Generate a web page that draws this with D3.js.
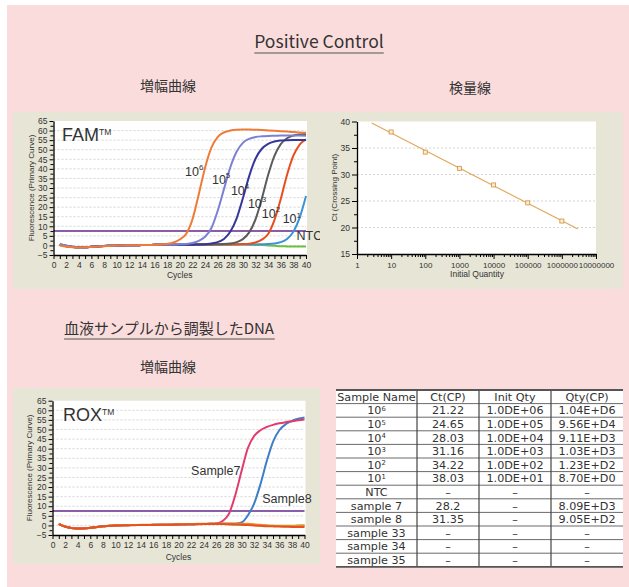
<!DOCTYPE html>
<html>
<head>
<meta charset="utf-8">
<script src="https://cdn.jsdelivr.net/npm/d3@7"></script>
<style>
  body { margin: 0; background: #fff; }
  svg text { font-family: "Liberation Sans", Arial, sans-serif; }
  .jp { font-family: "Noto Sans CJK JP", "Noto Sans", sans-serif; }
  .tbl { font-family: "DejaVu Sans", "Noto Sans", sans-serif; }
</style>
</head>
<body>
<svg id="chart" width="629" height="587"></svg>
<script>
// ---------- data ----------
const cycles = [1,2,3,4,5,6,7,8,9,10,11,12,13,14,15,16,17,18,19,20,
                21,22,23,24,25,26,27,28,29,30,31,32,33,34,35,36,37,38,39,40];

// FAM amplification curves (fluorescence per cycle)
const famNTC = [0.3,-0.4,-0.8,-1.0,-0.9,-0.7,-0.5,-0.3,-0.2,-0.1,0.0,0.1,0.1,0.2,0.2,0.3,0.3,0.3,0.4,0.4,
                0.4,0.4,0.5,0.5,0.5,0.5,0.5,0.5,0.5,0.5,0.4,0.3,0.2,0.0,-0.2,-0.4,-0.5,-0.6,-0.6,-0.6];
const fam1e1 = [0.3,-0.4,-0.8,-1.0,-0.9,-0.7,-0.5,-0.3,-0.2,-0.1,0.0,0.1,0.1,0.2,0.2,0.3,0.3,0.3,0.4,0.4,
                0.4,0.4,0.5,0.5,0.5,0.5,0.5,0.5,0.5,0.5,0.5,0.5,0.6,0.7,1.0,1.7,3.4,7.2,14.5,25.8];
const fam1e2 = [0.3,-0.4,-0.8,-1.0,-0.9,-0.7,-0.5,-0.3,-0.2,-0.1,0.0,0.1,0.1,0.2,0.2,0.3,0.3,0.3,0.4,0.4,
                0.4,0.4,0.5,0.5,0.5,0.5,0.5,0.5,0.6,0.7,0.9,1.5,3.0,6.0,13.2,24.2,36.9,46.9,52.7,55.4];
const fam1e3 = [0.4,-0.3,-0.8,-1.0,-0.9,-0.7,-0.5,-0.3,-0.2,-0.1,0.0,0.1,0.1,0.2,0.2,0.3,0.3,0.3,0.4,0.4,
                0.4,0.4,0.5,0.5,0.5,0.6,0.7,1.0,1.7,3.3,6.8,13.6,24.4,36.8,46.8,52.9,56.0,57.4,58.0,58.2];
const fam1e4 = [0.6,-0.2,-0.7,-1.0,-0.9,-0.7,-0.5,-0.3,-0.2,-0.1,0.0,0.1,0.1,0.2,0.2,0.3,0.3,0.3,0.4,0.4,
                0.4,0.4,0.5,0.6,1.0,1.7,3.4,7.1,14.0,24.6,36.2,45.3,50.5,53.1,54.3,54.8,55.0,55.1,55.1,55.1];
const fam1e5 = [0.8,0.0,-0.6,-0.9,-0.9,-0.7,-0.5,-0.3,-0.2,-0.1,0.0,0.1,0.1,0.2,0.2,0.3,0.3,0.3,0.4,0.6,
                0.8,1.3,2.4,4.5,9.0,18.0,29.4,40.7,48.9,53.6,55.7,56.6,57.0,57.2,57.3,57.4,57.4,57.4,57.4,57.3];
const fam1e6 = [0.0,-0.6,-1.0,-1.1,-1.0,-0.8,-0.6,-0.4,-0.3,-0.1,0.0,0.1,0.1,0.2,0.2,0.3,0.5,0.8,1.5,3.1,
                6.0,13.5,26.5,40.5,51.0,56.6,59.0,60.0,60.4,60.5,60.5,60.4,60.3,60.1,59.9,59.7,59.5,59.3,59.0,58.8];

// ROX amplification curves (DNA prepared from blood samples)
const rox33 = [0.8,-0.6,-1.3,-1.5,-1.5,-1.2,-0.8,-0.4,-0.2,0.0,0.1,0.1,0.2,0.2,0.2,0.3,0.3,0.3,0.4,0.5,
               0.6,0.6,0.7,0.7,0.8,0.8,0.8,0.6,0.5,0.4,0.3,0.2,0.0,-0.1,-0.2,-0.2,-0.2,-0.2,-0.1,-0.1];
const rox34 = [0.9,-0.5,-1.4,-1.6,-1.6,-1.3,-0.9,-0.5,-0.2,0.0,0.1,0.2,0.2,0.3,0.3,0.3,0.4,0.4,0.5,0.6,
               0.7,0.7,0.8,0.8,0.9,0.9,1.0,1.0,1.0,0.9,0.8,0.6,0.3,0.0,-0.2,-0.3,-0.4,-0.3,-0.2,-0.1];
const rox35 = [0.7,-0.7,-1.4,-1.7,-1.6,-1.3,-0.9,-0.5,-0.3,-0.1,0.0,0.1,0.1,0.2,0.2,0.2,0.3,0.3,0.4,0.5,
               0.5,0.6,0.6,0.7,0.7,0.7,0.7,0.6,0.5,0.4,0.2,0.0,-0.2,-0.4,-0.5,-0.6,-0.7,-0.8,-0.8,-0.8];
const roxSample7 = [0.8,-0.6,-1.3,-1.5,-1.5,-1.2,-0.8,-0.4,-0.2,0.0,0.1,0.1,0.2,0.2,0.2,0.3,0.3,0.3,0.4,0.5,
                    0.6,0.6,0.7,0.7,0.8,1.0,2.3,6.0,15.6,28.2,40.2,46.6,49.6,51.3,52.4,53.2,53.8,54.3,54.8,55.2];
const roxSample8 = [0.8,-0.6,-1.3,-1.5,-1.5,-1.2,-0.8,-0.4,-0.2,0.0,0.1,0.1,0.2,0.2,0.2,0.3,0.3,0.3,0.4,0.5,
                    0.6,0.6,0.7,0.7,0.8,0.8,0.8,0.8,0.9,1.5,5.2,11.4,21.4,33.4,43.6,49.6,52.7,54.5,55.6,56.3];

const threshold = 7.5;

// standard curve: log10 initial quantity vs Ct
const stdQuantity = [10, 100, 1000, 10000, 100000, 1000000];
const stdCt = [38.03, 34.22, 31.16, 28.03, 24.65, 21.22];
const fitLogRange = [0.43, 6.47];

// results table
const tableHeader = ["Sample Name", "Ct(CP)", "Init Qty", "Qty(CP)"];
const sampleNames = ["10^6","10^5","10^4","10^3","10^2","10^1","NTC","sample 7","sample 8","sample 33","sample 34","sample 35"];
const ctCP = ["21.22","24.65","28.03","31.16","34.22","38.03","–","28.2","31.35","–","–","–"];
const initQty = ["1.0DE+06","1.0DE+05","1.0DE+04","1.0DE+03","1.0DE+02","1.0DE+01","–","–","–","–","–","–"];
const qtyCP = ["1.04E+D6","9.56E+D4","9.11E+D3","1.03E+D3","1.23E+D2","8.70E+D0","–","8.09E+D3","9.05E+D2","–","–","–"];

// axis ticks
const fluorTicks = [-5,0,5,10,15,20,25,30,35,40,45,50,55,60,65];
const cycleTicks = [0,2,4,6,8,10,12,14,16,18,20,22,24,26,28,30,32,34,36,38,40];
const ctTicks = [15,20,25,30,35,40];
const qtyTicks = [1,10,100,1000,10000,100000,1000000,10000000];

// ---------- drawing ----------
const svg = d3.select("#chart");
const PINK = "#fbdcdc", BEIGE = "#e7e5d6", INK = "#333";

svg.append("rect").attr("width", 629).attr("height", 587).attr("fill", "#fff");
svg.append("rect").attr("x", 7).attr("y", 5).attr("width", 622).attr("height", 582).attr("fill", PINK);

function heading(txt, x, y, size, underline) {
  const t = svg.append("text").attr("class", "jp").attr("x", x).attr("y", y)
    .attr("text-anchor", "middle").attr("font-size", size).attr("fill", INK).text(txt);
  if (underline) {
    const b = t.node().getBBox();
    svg.append("line").attr("x1", b.x).attr("x2", b.x + b.width)
      .attr("y1", y + 5).attr("y2", y + 5).attr("stroke", "#555").attr("stroke-width", 1.2);
  }
}
heading("Positive Control", 319, 48, 17.5, true);
heading("増幅曲線", 168, 91, 14, false);
heading("検量線", 470, 93, 14, false);
heading("血液サンプルから調製したDNA", 169, 334, 15, true);
heading("増幅曲線", 168, 372, 14, false);

function supText(g, x, y, base, sup, size, supSize, anchor, shift) {
  const t = g.append("text").attr("x", x).attr("y", y).attr("font-size", size)
    .attr("fill", INK).attr("text-anchor", anchor || "start");
  t.append("tspan").text(base);
  if (sup) t.append("tspan").attr("font-size", supSize).attr("dy", -(shift || size * 0.42)).text(sup);
  return t;
}

function styleAxis(sel) {
  sel.selectAll(".domain").attr("stroke", "#000").attr("stroke-width", 1.3);
  sel.selectAll(".tick line").attr("stroke", "#000");
  sel.selectAll("text").attr("fill", "#333").attr("font-family", "Liberation Sans, Arial, sans-serif");
}

function ampChart(cfg) {
  const g = svg.append("g");
  g.append("rect").attr("x", cfg.panel[0]).attr("y", cfg.panel[1])
    .attr("width", cfg.panel[2]).attr("height", cfg.panel[3]).attr("fill", BEIGE);

  const x = d3.scaleLinear().domain([0, 40]).range([cfg.x0, cfg.x1]);
  const y = d3.scaleLinear().domain([-5, 65]).range([cfg.y1, cfg.y0]);

  g.append("rect").attr("x", x(0)).attr("y", y(65))
    .attr("width", x(40) - x(0) + 1).attr("height", y(-5) - y(65)).attr("fill", "#fff");

  g.selectAll(".grid").data(fluorTicks.filter(v => v > -5 && v < 65)).join("line")
    .attr("x1", x(0)).attr("x2", x(40)).attr("y1", d => y(d)).attr("y2", d => y(d))
    .attr("stroke", "#c9c9c9").attr("stroke-width", 0.8).attr("stroke-dasharray", "2,2");

  // dye name with trademark mark
  const ttl = g.append("text").attr("x", cfg.titlePos[0]).attr("y", cfg.titlePos[1])
    .attr("font-size", 18).attr("fill", INK);
  ttl.append("tspan").text(cfg.title);
  ttl.append("tspan").attr("font-size", 8.5).attr("dy", -6.5).text("TM");

  g.append("line").attr("x1", x(0)).attr("x2", x(40))
    .attr("y1", y(threshold)).attr("y2", y(threshold))
    .attr("stroke", "#8b5ca8").attr("stroke-width", 2);

  const line = d3.line().x((d, i) => x(cycles[i])).y(d => y(d)).curve(d3.curveMonotoneX);
  cfg.series.forEach(s => {
    g.append("path").attr("d", line(s.values)).attr("fill", "none")
      .attr("stroke", s.color).attr("stroke-width", 2);
  });

  // axes
  const yAx = g.append("g").attr("transform", `translate(${x(0)},0)`)
    .call(d3.axisLeft(y).tickValues(fluorTicks).tickSize(4).tickSizeOuter(0).tickPadding(2))
    .attr("font-size", 8.5);
  g.append("g").attr("transform", `translate(${x(0)},0)`)
    .call(d3.axisLeft(y).tickValues(fluorTicks.slice(0, -1).map(v => v + 2.5)).tickSize(3).tickFormat(""))
    .call(s => s.select(".domain").remove())
    .selectAll("line").attr("stroke", "#000");
  styleAxis(yAx);

  const xAx = g.append("g").attr("transform", `translate(0,${y(-5)})`)
    .call(d3.axisBottom(x).tickValues(cycleTicks).tickSize(4).tickSizeOuter(0).tickPadding(3))
    .attr("font-size", 8.5);
  g.append("g").attr("transform", `translate(0,${y(-5)})`)
    .call(d3.axisBottom(x).tickValues(cycleTicks.slice(0, -1).map(v => v + 1)).tickSize(4).tickFormat(""))
    .call(s => s.select(".domain").remove())
    .selectAll("line").attr("stroke", "#000");
  styleAxis(xAx);

  g.append("text").attr("x", (x(0) + x(40)) / 2).attr("y", cfg.xTitleY).attr("text-anchor", "middle")
    .attr("font-size", 8.5).attr("fill", INK).text("Cycles");
  g.append("text").attr("transform", `translate(${cfg.yTitleX},${(y(-5) + y(65)) / 2}) rotate(-90)`)
    .attr("text-anchor", "middle").attr("font-size", 8).attr("fill", INK)
    .text("Fluorescence (Primary Curve)");

  cfg.labels.forEach(l => supText(g, x(l.c), y(l.v), l.base, l.sup, 12.5, 8));
}

ampChart({
  panel: [13, 112, 307, 177],
  x0: 53.5, x1: 306, y0: 121, y1: 255,
  title: "FAM", titlePos: [62, 141],
  xTitleY: 278, yTitleX: 34,
  series: [
    { values: famNTC, color: "#6cbf45" },
    { values: fam1e1, color: "#3b93d6" },
    { values: fam1e2, color: "#e84e1c" },
    { values: fam1e3, color: "#5b5b5b" },
    { values: fam1e4, color: "#35369a" },
    { values: fam1e5, color: "#7c80d3" },
    { values: fam1e6, color: "#f07b36" }
  ],
  labels: [
    { c: 20.85, v: 36.5, base: "10", sup: "6" },
    { c: 25.1, v: 32.3, base: "10", sup: "5" },
    { c: 28.1, v: 26.6, base: "10", sup: "4" },
    { c: 30.8, v: 19.8, base: "10", sup: "3" },
    { c: 33.0, v: 14.5, base: "10", sup: "2" },
    { c: 36.3, v: 11.5, base: "10", sup: "1" },
    { c: 38.5, v: 2.6, base: "NTC", sup: "" }
  ]
});

ampChart({
  panel: [13, 388, 307, 176],
  x0: 52.5, x1: 304.5, y0: 400.7, y1: 535,
  title: "ROX", titlePos: [63, 421],
  xTitleY: 560, yTitleX: 32,
  series: [
    { values: rox33, color: "#6cbf45" },
    { values: roxSample8, color: "#3f7dc8" },
    { values: roxSample7, color: "#e23a6c" },
    { values: rox34, color: "#f08a30" },
    { values: rox35, color: "#e8501c" }
  ],
  labels: [
    { c: 22.0, v: 26.2, base: "Sample7", sup: "" },
    { c: 33.3, v: 11.7, base: "Sample8", sup: "" }
  ]
});

// ---------- standard curve ----------
(function () {
  const g = svg.append("g");
  g.append("rect").attr("x", 320).attr("y", 112).attr("width", 303).attr("height", 177).attr("fill", BEIGE);
  const x = d3.scaleLog().domain([1, 1e7]).range([357, 596]);
  const y = d3.scaleLinear().domain([15, 40]).range([254, 121.5]);
  g.append("rect").attr("x", x(1)).attr("y", y(40)).attr("width", x(1e7) - x(1))
    .attr("height", y(15) - y(40)).attr("fill", "#fff");
  g.selectAll(".grid").data(ctTicks.filter(v => v > 15 && v < 40)).join("line")
    .attr("x1", x(1)).attr("x2", x(1e7)).attr("y1", d => y(d)).attr("y2", d => y(d))
    .attr("stroke", "#c9c9c9").attr("stroke-width", 0.8).attr("stroke-dasharray", "2,2");

  // least-squares line of Ct against log10 quantity
  const lx = stdQuantity.map(q => Math.log10(q));
  const mx = d3.mean(lx), my = d3.mean(stdCt);
  const slope = d3.sum(lx.map((v, i) => (v - mx) * (stdCt[i] - my))) / d3.sum(lx.map(v => (v - mx) ** 2));
  const icpt = my - slope * mx;
  g.append("line")
    .attr("x1", x(10 ** fitLogRange[0])).attr("y1", y(icpt + slope * fitLogRange[0]))
    .attr("x2", x(10 ** fitLogRange[1])).attr("y2", y(icpt + slope * fitLogRange[1]))
    .attr("stroke", "#e2a658").attr("stroke-width", 1.1);
  g.selectAll(".pt").data(stdQuantity).join("rect")
    .attr("x", (d) => x(d) - 2).attr("y", (d, i) => y(stdCt[i]) - 2)
    .attr("width", 4).attr("height", 4).attr("fill", "#fbeed8")
    .attr("stroke", "#d39a4c").attr("stroke-width", 0.9);

  const yAx = g.append("g").attr("transform", `translate(${x(1)},0)`)
    .call(d3.axisLeft(y).tickValues(ctTicks).tickSize(5).tickSizeOuter(0).tickPadding(2))
    .attr("font-size", 8.5);
  g.append("g").attr("transform", `translate(${x(1)},0)`)
    .call(d3.axisLeft(y).tickValues(ctTicks.slice(0, -1).map(v => v + 2.5)).tickSize(3).tickFormat(""))
    .call(s => s.select(".domain").remove())
    .selectAll("line").attr("stroke", "#000");
  styleAxis(yAx);

  const minor = [];
  qtyTicks.slice(0, -1).forEach(d => { for (let k = 2; k <= 9; k++) minor.push(d * k); });
  const xAx = g.append("g").attr("transform", `translate(0,${y(15)})`)
    .call(d3.axisBottom(x).tickValues(qtyTicks).tickSize(5).tickSizeOuter(0).tickPadding(3)
      .tickFormat(d3.format("d")))
    .attr("font-size", 8);
  g.append("g").attr("transform", `translate(0,${y(15)})`)
    .call(d3.axisBottom(x).tickValues(minor).tickSize(3).tickFormat(""))
    .call(s => s.select(".domain").remove())
    .selectAll("line").attr("stroke", "#000");
  styleAxis(xAx);

  g.append("text").attr("x", 477).attr("y", 277).attr("text-anchor", "middle")
    .attr("font-size", 8.5).attr("fill", INK).text("Initial Quantity");
  g.append("text").attr("transform", `translate(337,${(y(15) + y(40)) / 2}) rotate(-90)`)
    .attr("text-anchor", "middle").attr("font-size", 8).attr("fill", INK)
    .text("Ct (Crossing Point)");
})();

// ---------- results table ----------
(function () {
  const g = svg.append("g");
  const colX = [336, 417, 479, 551, 623];
  const top = 390, rowH = 13.6;
  const rows = [tableHeader].concat(sampleNames.map((n, i) => [n, ctCP[i], initQty[i], qtyCP[i]]));
  const bottom = top + rows.length * rowH;
  g.append("rect").attr("x", colX[0]).attr("y", top).attr("width", colX[4] - colX[0])
    .attr("height", bottom - top).attr("fill", "#fff");
  rows.forEach((r, i) => {
    if (i > 0) g.append("line").attr("x1", colX[0]).attr("x2", colX[4])
      .attr("y1", top + i * rowH).attr("y2", top + i * rowH).attr("stroke", "#6a6a6a").attr("stroke-width", 1);
    r.forEach((cell, j) => {
      const cx = (colX[j] + colX[j + 1]) / 2, cy = top + i * rowH + rowH - 2.8;
      const parts = String(cell).split("^");
      const t = supText(g, cx, cy, parts[0], parts[1], 11.2, 6.8, "middle", 3.5);
      t.attr("class", "tbl").attr("fill", "#333");
    });
  });
  [1, 2, 3].forEach(j => g.append("line").attr("x1", colX[j]).attr("x2", colX[j])
    .attr("y1", top).attr("y2", bottom).attr("stroke", "#444").attr("stroke-width", 1.2));
  [top, bottom].forEach(yy => g.append("line").attr("x1", colX[0]).attr("x2", colX[4])
    .attr("y1", yy).attr("y2", yy).attr("stroke", "#555").attr("stroke-width", 1.8));
})();
</script>
</body>
</html>
